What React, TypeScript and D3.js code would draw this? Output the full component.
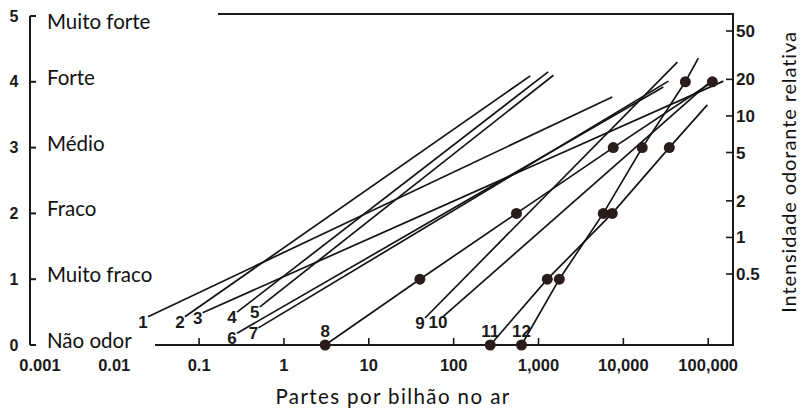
import React from "react";
import * as d3 from "d3";

const W = 801;
const H = 410;

// Left category axis
const levelValues = [0, 1, 2, 3, 4, 5];
const levelNumbers = ["0", "1", "2", "3", "4", "5"];
const levelNames = ["Não odor", "Muito fraco", "Fraco", "Médio", "Forte", "Muito forte"];

// Bottom concentration axis
const xTickValues = [0.001, 0.01, 0.1, 1, 10, 100, 1000, 10000, 100000];
const xTickLabels = ["0.001", "0.01", "0.1", "1", "10", "100", "1,000", "10,000", "100,000"];
const xTickMarks = [0.1, 1, 10, 100, 1000, 10000, 100000];

// Right relative-intensity axis
const rightTickValues = [50, 20, 10, 5, 2, 1, 0.5];
const rightTickLabels = ["50", "20", "10", "5", "2", "1", "0.5"];

// Compound lines (concentration ppb, category intensity)
const lineNames = ["1", "2", "3", "4", "5", "6", "7", "8", "9", "10", "11", "12"];
const lineConc = [
  [0.025, 7400],
  [0.068, 800],
  [0.11, 151000],
  [0.28, 1300],
  [0.52, 1500],
  [0.28, 29600],
  [0.5, 34000],
  [3.06, 40, 550, 7600, 112000],
  [46, 43300],
  [75, 112000],
  [270, 1270, 7400, 34800, 97700],
  [630, 1760, 5800, 16700, 53800, 76500],
];
const lineIntensity = [
  [0.43, 3.77],
  [0.43, 4.09],
  [0.49, 4.01],
  [0.5, 4.15],
  [0.58, 4.1],
  [0.18, 3.92],
  [0.26, 4.01],
  [0, 1, 2, 3, 4],
  [0.41, 4.3],
  [0.43, 4.03],
  [0, 1, 2, 3, 3.65],
  [0, 1, 2, 3, 4, 4.36],
];
const lineDotCount = [0, 0, 0, 0, 0, 0, 0, 5, 0, 0, 4, 5];

const numFont = "'Liberation Sans', Arial, sans-serif";
const textFont = "Lato, 'Open Sans', sans-serif";

export default function App() {
  const x = d3.scaleLog().domain([0.001, 100000]).range([29.4, 708.2]);
  const y = d3.scaleLinear().domain([0, 5]).range([345, 16]);
  const yR = d3.scaleLog().domain([0.5, 50]).range([274, 31]);

  const axisX = 30;
  const rightX = 733;
  const bottomY = y(0);
  const frameStartX = 155;
  const topY = 14;
  const topStartX = 218;

  const line = d3
    .line<[number, number]>()
    .x((d) => x(d[0]))
    .y((d) => y(d[1]));

  const series = lineNames.map((name, i) => ({
    name,
    pts: lineConc[i].map((c, j) => [c, lineIntensity[i][j]] as [number, number]),
    dots: lineDotCount[i],
  }));

  return (
    <svg
      width={W}
      height={H}
      style={{ position: "absolute", left: 0, top: 0, background: "#fff" }}
    >
      <rect x={0} y={0} width={W} height={H} fill="#fff" />
      {/* frame */}
      <line x1={topStartX} x2={rightX} y1={topY} y2={topY} stroke="#1a1a1a" strokeWidth={2} />
      <line x1={rightX} x2={rightX} y1={topY - 1} y2={bottomY + 1} stroke="#1a1a1a" strokeWidth={2} />
      <line x1={frameStartX} x2={rightX} y1={bottomY} y2={bottomY} stroke="#1a1a1a" strokeWidth={2} />

      {/* bottom ticks */}
      {xTickMarks.map((v) => (
        <line key={"bt" + v} x1={x(v)} x2={x(v)} y1={bottomY} y2={bottomY - 7} stroke="#1a1a1a" strokeWidth={1.6} />
      ))}
      {xTickValues.map((v, i) => (
        <text
          key={"bl" + v}
          x={Math.max(x(v), 40)}
          y={371}
          textAnchor="middle"
          fontFamily={numFont}
          fontWeight="bold"
          fontSize={16.5}
          fill="#1a1a1a"
        >
          {xTickLabels[i]}
        </text>
      ))}

      {/* left category axis */}
      <line x1={axisX} x2={axisX} y1={y(5)} y2={y(0)} stroke="#1a1a1a" strokeWidth={2} />
      {levelValues.map((v, i) => (
        <g key={"lv" + v}>
          <line x1={axisX} x2={axisX + 6} y1={y(v)} y2={y(v)} stroke="#1a1a1a" strokeWidth={2} />
          <text
            x={14}
            y={y(v) + 5.5}
            textAnchor="middle"
            fontFamily={numFont}
            fontWeight="bold"
            fontSize={16}
            fill="#1a1a1a"
          >
            {levelNumbers[i]}
          </text>
          <text
            x={47}
            y={Math.max(y(v) + 3, 29)}
            fontFamily={textFont}
            fontSize={20.5}
            fill="#111"
          >
            {levelNames[i]}
          </text>
        </g>
      ))}

      {/* right axis */}
      {rightTickValues.map((v, i) => (
        <g key={"rt" + v}>
          <line x1={rightX - 7} x2={rightX} y1={yR(v)} y2={yR(v)} stroke="#1a1a1a" strokeWidth={1.6} />
          <text
            x={rightX + 3}
            y={yR(v) + 6}
            fontFamily={numFont}
            fontWeight="bold"
            fontSize={17}
            fill="#1a1a1a"
          >
            {rightTickLabels[i]}
          </text>
        </g>
      ))}

      {/* lines */}
      {series.map((s) => (
        <path key={"p" + s.name} d={line(s.pts) || ""} fill="none" stroke="#141414" strokeWidth={1.7} />
      ))}
      {series.map((s) =>
        s.pts.slice(0, s.dots).map((p, j) => (
          <circle key={"c" + s.name + j} cx={x(p[0])} cy={y(p[1])} r={5.5} fill="#2a1c1c" />
        ))
      )}
      {series.map((s) => {
        const p = s.pts[0];
        const sx = x(p[0]);
        const sy = y(p[1]);
        const onAxis = p[1] === 0;
        return (
          <text
            key={"t" + s.name}
            x={onAxis ? sx : sx - 5}
            y={onAxis ? sy - 8 : sy + 11}
            textAnchor="middle"
            fontFamily={numFont}
            fontWeight="bold"
            fontSize={17}
            fill="#1a1a1a"
          >
            {s.name}
          </text>
        );
      })}

      {/* titles */}
      <text
        x={393}
        y={404}
        textAnchor="middle"
        fontFamily={textFont}
        fontSize={20.5}
        letterSpacing={1.4}
        fill="#111"
      >
        Partes por bilhão no ar
      </text>
      <text
        transform={`translate(796,172) rotate(-90)`}
        textAnchor="middle"
        fontFamily={textFont}
        fontSize={20}
        letterSpacing={0.9}
        fill="#111"
      >
        Intensidade odorante relativa
      </text>
    </svg>
  );
}
